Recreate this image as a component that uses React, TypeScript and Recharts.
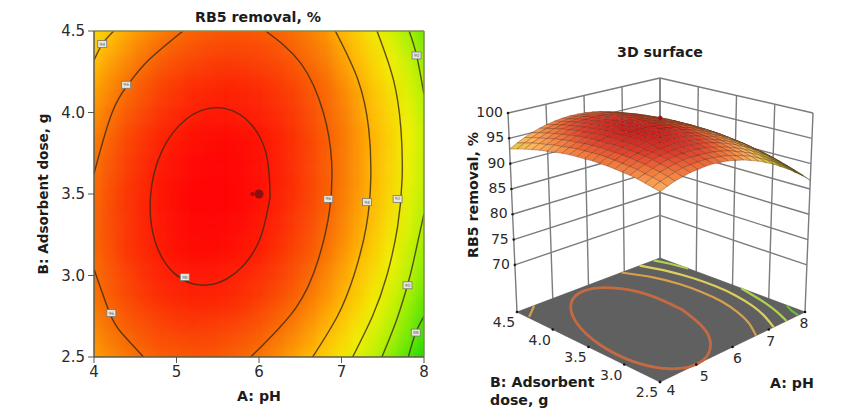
import React from 'react';
import { ComposedChart, XAxis, YAxis, Line, Scatter, ReferenceArea, ReferenceLine } from 'recharts';

const PH_VALUES = [4, 4.2, 4.4, 4.6, 4.8, 5, 5.2, 5.4, 5.6, 5.8, 6, 6.2, 6.4, 6.6, 6.8, 7, 7.2, 7.4, 7.6, 7.8, 8];
const DOSE_VALUES = [2.5, 2.6, 2.7, 2.8, 2.9, 3, 3.1, 3.2, 3.3, 3.4, 3.5, 3.6, 3.7, 3.8, 3.9, 4, 4.1, 4.2, 4.3, 4.4, 4.5];

// removal %, one row per dose (2.5 up to 4.5), one column per pH (4 up to 8)
const REMOVAL = [
  [94.7, 95.2, 95.7, 96.0, 96.3, 96.4, 96.5, 96.5, 96.3, 96.1, 95.7, 95.3, 94.7, 94.1, 93.3, 92.5, 91.5, 90.5, 89.3, 88.1, 86.7],
  [95.0, 95.6, 96.0, 96.4, 96.7, 96.8, 96.9, 96.9, 96.7, 96.5, 96.2, 95.7, 95.2, 94.6, 93.8, 93.0, 92.1, 91.0, 89.9, 88.7, 87.3],
  [95.3, 95.9, 96.4, 96.7, 97.0, 97.2, 97.3, 97.2, 97.1, 96.9, 96.6, 96.2, 95.6, 95.0, 94.3, 93.5, 92.5, 91.5, 90.4, 89.2, 87.8],
  [95.6, 96.1, 96.6, 97.0, 97.3, 97.5, 97.6, 97.6, 97.5, 97.3, 96.9, 96.5, 96.0, 95.4, 94.7, 93.9, 93.0, 92.0, 90.9, 89.6, 88.3],
  [95.8, 96.4, 96.9, 97.3, 97.6, 97.8, 97.9, 97.9, 97.8, 97.6, 97.3, 96.9, 96.4, 95.8, 95.1, 94.3, 93.4, 92.4, 91.3, 90.1, 88.8],
  [95.9, 96.5, 97.0, 97.5, 97.8, 98.0, 98.1, 98.1, 98.0, 97.8, 97.5, 97.2, 96.7, 96.1, 95.4, 94.6, 93.7, 92.7, 91.7, 90.5, 89.2],
  [96.0, 96.6, 97.2, 97.6, 97.9, 98.2, 98.3, 98.3, 98.2, 98.1, 97.8, 97.4, 96.9, 96.4, 95.7, 94.9, 94.0, 93.1, 92.0, 90.8, 89.5],
  [96.1, 96.7, 97.3, 97.7, 98.0, 98.3, 98.4, 98.5, 98.4, 98.2, 98.0, 97.6, 97.1, 96.6, 95.9, 95.2, 94.3, 93.3, 92.3, 91.1, 89.8],
  [96.1, 96.8, 97.3, 97.8, 98.1, 98.4, 98.5, 98.6, 98.5, 98.4, 98.1, 97.8, 97.3, 96.8, 96.1, 95.4, 94.5, 93.6, 92.5, 91.4, 90.1],
  [96.1, 96.8, 97.3, 97.8, 98.1, 98.4, 98.6, 98.6, 98.6, 98.5, 98.2, 97.9, 97.4, 96.9, 96.3, 95.5, 94.7, 93.8, 92.7, 91.6, 90.3],
  [96.0, 96.7, 97.3, 97.7, 98.1, 98.4, 98.6, 98.6, 98.6, 98.5, 98.3, 97.9, 97.5, 97.0, 96.4, 95.6, 94.8, 93.9, 92.9, 91.7, 90.5],
  [95.9, 96.6, 97.2, 97.7, 98.1, 98.3, 98.5, 98.6, 98.6, 98.5, 98.3, 98.0, 97.6, 97.0, 96.4, 95.7, 94.9, 94.0, 93.0, 91.9, 90.7],
  [95.8, 96.5, 97.1, 97.6, 98.0, 98.3, 98.5, 98.6, 98.6, 98.5, 98.3, 98.0, 97.5, 97.0, 96.4, 95.7, 94.9, 94.0, 93.0, 91.9, 90.7],
  [95.6, 96.3, 96.9, 97.4, 97.8, 98.1, 98.3, 98.4, 98.5, 98.4, 98.2, 97.9, 97.5, 97.0, 96.4, 95.7, 94.9, 94.1, 93.1, 92.0, 90.8],
  [95.3, 96.0, 96.7, 97.2, 97.6, 97.9, 98.2, 98.3, 98.3, 98.2, 98.1, 97.8, 97.4, 96.9, 96.3, 95.7, 94.9, 94.0, 93.0, 92.0, 90.8],
  [95.0, 95.8, 96.4, 96.9, 97.4, 97.7, 97.9, 98.1, 98.1, 98.0, 97.9, 97.6, 97.3, 96.8, 96.2, 95.6, 94.7, 93.8, 92.9, 91.8, 90.5],
  [94.7, 95.4, 96.1, 96.6, 97.1, 97.4, 97.7, 97.8, 97.9, 97.8, 97.7, 97.4, 97.1, 96.6, 96.1, 95.4, 94.6, 93.6, 92.7, 91.5, 90.4],
  [94.3, 95.1, 95.7, 96.3, 96.8, 97.1, 97.4, 97.5, 97.6, 97.6, 97.4, 97.2, 96.8, 96.4, 95.9, 95.1, 94.3, 93.3, 92.4, 91.3, 90.1],
  [93.9, 94.7, 95.3, 95.9, 96.4, 96.8, 97.0, 97.2, 97.3, 97.2, 97.1, 96.9, 96.6, 96.1, 95.6, 94.8, 94.0, 93.0, 92.1, 91.0, 89.7],
  [93.4, 94.2, 94.9, 95.5, 96.0, 96.3, 96.6, 96.8, 96.9, 96.9, 96.8, 96.6, 96.2, 95.8, 95.3, 94.5, 93.6, 92.7, 91.7, 90.4, 89.2],
  [92.9, 93.7, 94.4, 95.0, 95.5, 95.9, 96.2, 96.4, 96.5, 96.5, 96.4, 96.2, 95.9, 95.5, 95.0, 94.1, 93.2, 92.2, 91.2, 90.0, 88.8],
];

// contour pieces as [pH, dose]
const CONTOUR_98 = [[6.135, 3.485], [6.08, 3.76], [5.84, 3.96], [5.49, 4.03], [5.12, 3.96], [4.82, 3.76], [4.685, 3.485], [4.74, 3.21], [4.98, 3.01], [5.33, 2.94], [5.7, 3.01], [6.0, 3.21], [6.135, 3.485]];
const CONTOUR_96_LEFT = [[4, 3.62], [4.04, 3.7], [4.22, 4.0], [4.41, 4.17], [4.66, 4.32], [5.08, 4.5]];
const CONTOUR_96_RIGHT = [[6.08, 4.5], [6.51, 4.3], [6.78, 4.0], [6.88, 3.7], [6.855, 3.4], [6.72, 3.1], [6.445, 2.8], [5.9, 2.5]];
const CONTOUR_96_BOTTOM = [[4, 3.04], [4.19, 2.77], [4.33, 2.65], [4.6, 2.5]];
const CONTOUR_94_CORNER = [[4, 4.32], [4.1, 4.42], [4.24, 4.5]];
const CONTOUR_94_RIGHT = [[6.925, 4.5], [7.2, 4.2], [7.33, 3.9], [7.355, 3.6], [7.3, 3.3], [7.15, 3.0], [6.95, 2.75], [6.65, 2.5]];
const CONTOUR_92 = [[7.43, 4.5], [7.63, 4.2], [7.72, 3.9], [7.735, 3.6], [7.68, 3.3], [7.55, 3.0], [7.375, 2.75], [7.135, 2.5]];
const CONTOUR_90_TOP = [[7.82, 4.5], [7.91, 4.35], [8, 4.11]];
const CONTOUR_90_BOTTOM = [[8, 3.38], [7.87, 3.08], [7.8, 2.94], [7.67, 2.73], [7.49, 2.5]];
const CONTOUR_88 = [[8, 2.75], [7.9, 2.65], [7.81, 2.5]];

const CONTOURS = [CONTOUR_98, CONTOUR_96_LEFT, CONTOUR_96_RIGHT, CONTOUR_96_BOTTOM, CONTOUR_94_CORNER, CONTOUR_94_RIGHT, CONTOUR_92, CONTOUR_90_TOP, CONTOUR_90_BOTTOM, CONTOUR_88];

// the floor of the 3D box shows its own closed ring and corner arc
const FLOOR_RING = [[6.51, 3.465], [6.53, 3.95], [6.245, 4.3], [5.725, 4.43], [5.11, 4.3], [4.567, 3.95], [4.24, 3.465], [4.217, 2.98], [4.505, 2.63], [5.025, 2.5], [5.64, 2.63], [6.183, 2.98], [6.51, 3.465]];
const FLOOR_CORNER = [[4.48, 4.5], [4.25, 4.42], [4.04, 4.35]];
const FLOOR_CONTOURS = [FLOOR_RING, FLOOR_CORNER, CONTOUR_94_RIGHT, CONTOUR_92, CONTOUR_90_TOP, CONTOUR_90_BOTTOM, CONTOUR_88];
const FLOOR_COLORS = ['#c46a42', '#d8a04c', '#d8a04c', '#dcd058', '#b0d050', '#b0d050', '#70b840'];

const CONTOUR_LABELS = [
  { x: 4.1, y: 4.42, label: '94' },
  { x: 4.39, y: 4.17, label: '96' },
  { x: 5.1, y: 2.99, label: '98' },
  { x: 4.21, y: 2.77, label: '96' },
  { x: 6.84, y: 3.47, label: '96' },
  { x: 7.31, y: 3.45, label: '94' },
  { x: 7.68, y: 3.47, label: '92' },
  { x: 7.8, y: 2.94, label: '90' },
  { x: 7.9, y: 2.65, label: '88' },
  { x: 7.91, y: 4.35, label: '90' },
];
const DESIGN_POINTS = [{ x: 6, y: 3.5, r: 4.5 }, { x: 5.92, y: 3.5, r: 2 }];
const PEAK_POINT = [6, 3.5, 99.7];

const PH_TICKS = [4, 5, 6, 7, 8];
const DOSE_TICKS = [2.5, 3, 3.5, 4, 4.5];
const REMOVAL_TICKS = [70, 75, 80, 85, 90, 95, 100];
const WALL_DOSE_LINES = [4.5, 4, 3.5, 3, 2.5];
const FLOOR_REMOVAL = 60.7;

const HEAT_STOPS: [number, number[]][] = [
  [86.7, [32, 216, 0]], [88, [80, 226, 0]], [90, [168, 240, 0]], [92, [240, 240, 0]],
  [94, [255, 184, 0]], [96, [248, 104, 0]], [97.5, [252, 44, 0]], [98.6, [255, 0, 0]],
];
const SURFACE_STOPS: [number, number[]][] = [
  [86.7, [48, 74, 24]], [90, [106, 122, 32]], [92.9, [210, 190, 50]], [93.7, [238, 196, 84]],
  [94.7, [252, 180, 96]], [95.5, [248, 154, 80]], [96.5, [238, 116, 60]], [97.5, [224, 68, 46]], [98.6, [206, 32, 30]],
];

function ramp(stops: [number, number[]][], value: number) {
  let k = 0;
  while (k < stops.length - 2 && value > stops[k + 1][0]) k++;
  const [a, ca] = stops[k];
  const [b, cb] = stops[k + 1];
  const t = Math.max(0, Math.min(1, (value - a) / (b - a)));
  const c = ca.map((v, n) => Math.round(v + (cb[n] - v) * t));
  return `rgb(${c[0]},${c[1]},${c[2]})`;
}

// view of the box: floor and z=100 position of each vertical edge
const EDGE_FRONT = [660, 382, 660, 162];
const EDGE_LEFT = [517, 312, 508, 113];
const EDGE_RIGHT = [805, 312, 813, 113];
const EDGE_BACK = [660, 258, 660, 78];

function project(ph: number, dose: number, removal: number) {
  const u = (ph - 4) / 4;
  const v = (dose - 2.5) / 2;
  const t = (removal - FLOOR_REMOVAL) / (100 - FLOOR_REMOVAL);
  const mix = (n: number) =>
    EDGE_FRONT[n] * (1 - u) * (1 - v) + EDGE_LEFT[n] * (1 - u) * v + EDGE_RIGHT[n] * u * (1 - v) + EDGE_BACK[n] * u * v;
  return {
    x: mix(0) + (mix(2) - mix(0)) * t,
    y: mix(1) + (mix(3) - mix(1)) * t,
  };
}

function quad(corners: { x: number; y: number }[], fill: string, stroke: string) {
  const x = corners.reduce((s, c) => s + c.x, 0) / corners.length;
  const y = corners.reduce((s, c) => s + c.y, 0) / corners.length;
  return { x, y, fill, stroke, offsets: corners.map((c) => [c.x - x, c.y - y]) };
}

const QuadShape = (props: any) => {
  const { cx, cy, payload } = props;
  const points = payload.offsets.map((o: number[]) => `${cx + o[0]},${cy + o[1]}`).join(' ');
  return <polygon points={points} fill={payload.fill} stroke={payload.stroke} strokeWidth={0.65} strokeLinejoin="round" />;
};

const TextShape = (props: any) => {
  const { cx, cy, payload } = props;
  return (
    <text x={cx + payload.dx} y={cy + payload.dy} textAnchor={payload.anchor} dominantBaseline="central"
      fontSize={14} fill="#2a2a2a" fontFamily="DejaVu Sans">
      {payload.label}
    </text>
  );
};

const DotShape = (props: any) => <circle cx={props.cx} cy={props.cy} r={props.payload.r} fill={props.payload.fill} />;

const ContourTag = (props: any) => (
  <g>
    <rect x={props.cx - 4.5} y={props.cy - 3.5} width={9} height={7} fill="#e8e8e0" stroke="#777" strokeWidth={0.8} />
    <text x={props.cx} y={props.cy + 1.6} textAnchor="middle" fontSize={4.5} fill="#666" fontFamily="DejaVu Sans">
      {props.payload.label}
    </text>
  </g>
);

const DesignDot = (props: any) => <circle cx={props.cx} cy={props.cy} r={props.payload.r} fill="#8e0f0f" />;

// surface cells, painted from the far corner towards the viewer
const surfaceCells: any[] = [];
for (let j = DOSE_VALUES.length - 2; j >= 0; j--) {
  for (let i = PH_VALUES.length - 2; i >= 0; i--) {
    const mean = (REMOVAL[j][i] + REMOVAL[j][i + 1] + REMOVAL[j + 1][i] + REMOVAL[j + 1][i + 1]) / 4;
    surfaceCells.push(
      quad(
        [
          project(PH_VALUES[i], DOSE_VALUES[j], REMOVAL[j][i]),
          project(PH_VALUES[i + 1], DOSE_VALUES[j], REMOVAL[j][i + 1]),
          project(PH_VALUES[i + 1], DOSE_VALUES[j + 1], REMOVAL[j + 1][i + 1]),
          project(PH_VALUES[i], DOSE_VALUES[j + 1], REMOVAL[j + 1][i]),
        ],
        ramp(SURFACE_STOPS, mean),
        'rgba(90,44,24,0.5)',
      ),
    );
  }
}

const floorCell = quad(
  [project(4, 2.5, FLOOR_REMOVAL), project(8, 2.5, FLOOR_REMOVAL), project(8, 4.5, FLOOR_REMOVAL), project(4, 4.5, FLOOR_REMOVAL)],
  '#606060',
  '#505050',
);

const wallLines = [
  ...REMOVAL_TICKS.flatMap((z) => [
    [project(4, 4.5, z), project(8, 4.5, z)],
    [project(8, 4.5, z), project(8, 2.5, z)],
  ]),
  ...PH_TICKS.map((ph) => [project(ph, 4.5, FLOOR_REMOVAL), project(ph, 4.5, 100)]),
  ...WALL_DOSE_LINES.map((d) => [project(8, d, FLOOR_REMOVAL), project(8, d, 100)]),
];

const axisTexts = [
  ...REMOVAL_TICKS.map((z) => ({ ...project(4, 4.5, z), label: String(z), dx: -5, dy: -1, anchor: 'end' })),
  ...DOSE_TICKS.map((d) => ({ ...project(4, d, FLOOR_REMOVAL), label: d.toFixed(1), dx: -13, dy: 10, anchor: 'middle' })),
  ...PH_TICKS.map((ph) => ({ ...project(ph, 2.5, FLOOR_REMOVAL), label: String(ph), dx: 11 - (ph - 4) * 3, dy: ph === 4 ? 8 : 11, anchor: 'middle' })),
];

const axisDots = [
  ...REMOVAL_TICKS.map((z) => ({ ...project(4, 4.5, z), r: 1.3, fill: '#222' })),
  ...DOSE_TICKS.map((d) => ({ ...project(4, d, FLOOR_REMOVAL), r: 1.3, fill: '#111' })),
  ...PH_TICKS.map((ph) => ({ ...project(ph, 2.5, FLOOR_REMOVAL), r: 1.3, fill: '#111' })),
  { ...project(PEAK_POINT[0], PEAK_POINT[1], PEAK_POINT[2]), r: 2.2, fill: '#9c1414' },
];

const PANEL_W = 405;
const PANEL_H = 412;

function Plane({ children }: { children: React.ReactNode }) {
  return (
    <div style={{ position: 'absolute', left: 440, top: 0 }}>
      <ComposedChart width={PANEL_W} height={PANEL_H} margin={{ top: 0, right: 0, bottom: 0, left: 0 }}>
        <XAxis type="number" dataKey="x" domain={[440, 845]} hide allowDataOverflow />
        <YAxis type="number" dataKey="y" domain={[0, 412]} reversed hide allowDataOverflow />
        {children}
      </ComposedChart>
    </div>
  );
}

function HeatLayer() {
  // edge cells run past the plot so the blur stays solid up to the frame
  const cells: React.ReactNode[] = [];
  DOSE_VALUES.forEach((d, j) => {
    PH_VALUES.forEach((ph, i) => {
      cells.push(
        <ReferenceArea
          key={`${i}-${j}`}
          x1={i === 0 ? 3 : ph - 0.1}
          x2={i === 20 ? 9 : ph + 0.1}
          y1={j === 0 ? 2 : d - 0.05}
          y2={j === 20 ? 5 : d + 0.05}
          fill={ramp(HEAT_STOPS, REMOVAL[j][i])}
          fillOpacity={1}
          stroke="none"
          ifOverflow="visible"
        />,
      );
    });
  });
  return (
    <div style={{ position: 'absolute', left: 94, top: 31, width: 330, height: 326, overflow: 'hidden' }}>
      <div style={{ position: 'absolute', left: -40, top: -40, filter: 'blur(6px)' }}>
        <ComposedChart width={410} height={406} margin={{ top: 40, right: 40, bottom: 40, left: 40 }} data={[{ x: 4, y: 2.5 }]}>
          <XAxis type="number" dataKey="x" domain={[4, 8]} hide allowDataOverflow />
          <YAxis type="number" dataKey="y" domain={[2.5, 4.5]} hide allowDataOverflow />
          {cells}
        </ComposedChart>
      </div>
    </div>
  );
}

export default function App() {
  const tick = { fontSize: 15, fill: '#2a2a2a', fontFamily: 'DejaVu Sans' };
  const boldLabel = { fontSize: 14.2, fontWeight: 700, fill: '#1c1c1c', fontFamily: 'DejaVu Sans' };
  return (
    <div style={{ position: 'absolute', left: 0, top: 0, width: 845, height: 412, background: '#fff', overflow: 'hidden' }}>
      <HeatLayer />
      <div style={{ position: 'absolute', left: 0, top: 0 }}>
        <ComposedChart width={440} height={412} margin={{ top: 31, right: 16, bottom: 0, left: 0 }}>
          <XAxis
            type="number"
            dataKey="x"
            domain={[4, 8]}
            ticks={PH_TICKS}
            height={55}
            tick={tick}
            tickSize={6}
            tickMargin={3}
            stroke="#555"
            allowDataOverflow
            label={{ value: 'A: pH', position: 'insideBottom', offset: 11, style: boldLabel }}
          />
          <YAxis
            type="number"
            dataKey="y"
            domain={[2.5, 4.5]}
            ticks={DOSE_TICKS}
            tickFormatter={(v: number) => v.toFixed(1)}
            width={94}
            tick={tick}
            tickSize={6}
            tickMargin={3}
            stroke="#555"
            allowDataOverflow
            label={{ value: 'B: Adsorbent dose, g', angle: -90, position: 'insideLeft', offset: 43, style: { ...boldLabel, fontSize: 13.6, textAnchor: 'middle' } }}
          />
          {CONTOURS.map((pts, n) => (
            <Line
              key={n}
              data={pts.map(([x, y]) => ({ x, y }))}
              dataKey="y"
              type="natural"
              stroke="#3a2a10"
              strokeOpacity={0.8}
              strokeWidth={1.4}
              dot={false}
              legendType="none"
              isAnimationActive={false}
            />
          ))}
          <ReferenceLine y={4.5} stroke="#7d8f50" strokeWidth={1.5} />
          <ReferenceLine x={8} stroke="#7d8f50" strokeWidth={1.5} />
          <ReferenceLine y={2.5} stroke="#6a6a3a" strokeWidth={1} />
          <ReferenceLine x={4} stroke="#6a6a3a" strokeWidth={1} />
          <Scatter data={CONTOUR_LABELS} shape={ContourTag} isAnimationActive={false} />
          <Scatter data={DESIGN_POINTS} shape={DesignDot} isAnimationActive={false} />
          <text x={258} y={22} textAnchor="middle" style={boldLabel}>RB5 removal, %</text>
        </ComposedChart>
      </div>

      <Plane>
        {wallLines.map((pts, n) => (
          <Line key={n} data={pts} dataKey="y" type="linear" stroke="#7c7c7c" strokeWidth={1.4} dot={false} isAnimationActive={false} />
        ))}
      </Plane>
      <Plane>
        <Scatter data={[floorCell]} shape={QuadShape} isAnimationActive={false} />
      </Plane>
      <Plane>
        {FLOOR_CONTOURS.map((pts, n) => (
          <Line
            key={n}
            data={pts.map(([ph, d]) => project(ph, d, FLOOR_REMOVAL))}
            dataKey="y"
            type="natural"
            stroke={FLOOR_COLORS[n]}
            strokeWidth={n === 0 ? 2.8 : 2.2}
            dot={false}
            isAnimationActive={false}
          />
        ))}
      </Plane>
      <Plane>
        <Scatter data={surfaceCells} shape={QuadShape} isAnimationActive={false} />
      </Plane>
      <Plane>
        <Scatter data={axisDots} shape={DotShape} isAnimationActive={false} />
        <Scatter data={axisTexts} shape={TextShape} isAnimationActive={false} />
        <text x={220} y={57} textAnchor="middle" style={boldLabel}>3D surface</text>
        <text x={33} y={195} textAnchor="middle" dominantBaseline="central" transform="rotate(-90 33 195)" style={boldLabel}>RB5 removal, %</text>
        <text x={50} y={387} style={boldLabel}>B: Adsorbent</text>
        <text x={50} y={405} style={boldLabel}>dose, g</text>
        <text x={330} y={388} style={boldLabel}>A: pH</text>
      </Plane>
    </div>
  );
}
